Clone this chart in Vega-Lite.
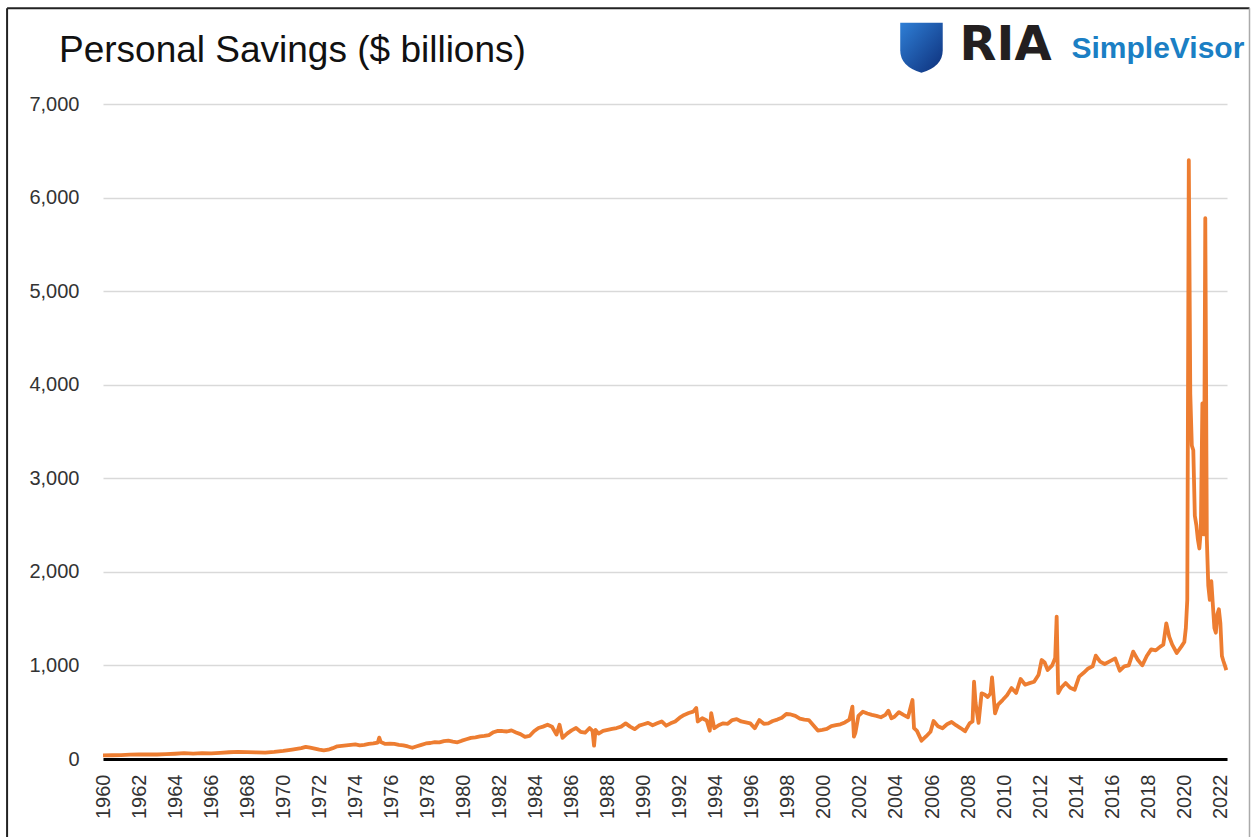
{
  "$schema": "https://vega.github.io/schema/vega-lite/v6.json",
  "autosize": {"type": "none"},
  "padding": {"left": 103, "top": 104, "right": 26, "bottom": 78},
  "width": 1124,
  "height": 655,
  "background": "white",
  "config": {
    "view": {"stroke": null},
    "font": "Liberation Sans"
  },
  "title": {
    "text": "Personal Savings ($ billions)",
    "anchor": "start",
    "frame": "group",
    "font": "Liberation Sans",
    "fontSize": 37,
    "fontWeight": "normal",
    "color": "#111111",
    "dx": -44,
    "offset": -63
  },
  "layer": [
    {
      "data": {
        "values": [
          {"date": "1960-01-01", "v": 38}, {"date": "1960-07-01", "v": 40}, {"date": "1961-01-01", "v": 42}, {"date": "1961-07-01", "v": 47},
          {"date": "1962-01-01", "v": 48}, {"date": "1962-07-01", "v": 50}, {"date": "1963-01-01", "v": 48}, {"date": "1963-07-01", "v": 52},
          {"date": "1964-01-01", "v": 56}, {"date": "1964-07-01", "v": 62}, {"date": "1965-01-01", "v": 58}, {"date": "1965-07-01", "v": 63},
          {"date": "1966-01-01", "v": 61}, {"date": "1966-07-01", "v": 66}, {"date": "1967-01-01", "v": 72}, {"date": "1967-07-01", "v": 76},
          {"date": "1968-01-01", "v": 73}, {"date": "1968-07-01", "v": 71}, {"date": "1969-01-01", "v": 69}, {"date": "1969-07-01", "v": 76},
          {"date": "1970-01-01", "v": 86}, {"date": "1970-07-01", "v": 101}, {"date": "1971-01-01", "v": 116}, {"date": "1971-04-01", "v": 130},
          {"date": "1971-07-01", "v": 121}, {"date": "1971-10-01", "v": 111}, {"date": "1972-01-01", "v": 100}, {"date": "1972-04-01", "v": 92},
          {"date": "1972-07-01", "v": 99}, {"date": "1972-10-01", "v": 116}, {"date": "1973-01-01", "v": 136}, {"date": "1973-04-01", "v": 141},
          {"date": "1973-07-01", "v": 146}, {"date": "1973-10-01", "v": 152}, {"date": "1974-01-01", "v": 156}, {"date": "1974-04-01", "v": 146},
          {"date": "1974-07-01", "v": 151}, {"date": "1974-10-01", "v": 161}, {"date": "1975-01-01", "v": 166}, {"date": "1975-04-01", "v": 176},
          {"date": "1975-05-01", "v": 228}, {"date": "1975-06-01", "v": 181}, {"date": "1975-09-01", "v": 161}, {"date": "1975-12-01", "v": 163},
          {"date": "1976-03-01", "v": 161}, {"date": "1976-06-01", "v": 151}, {"date": "1976-09-01", "v": 146}, {"date": "1976-12-01", "v": 134},
          {"date": "1977-03-01", "v": 120}, {"date": "1977-06-01", "v": 136}, {"date": "1977-09-01", "v": 151}, {"date": "1977-12-01", "v": 166},
          {"date": "1978-03-01", "v": 171}, {"date": "1978-06-01", "v": 181}, {"date": "1978-09-01", "v": 178}, {"date": "1978-12-01", "v": 191},
          {"date": "1979-03-01", "v": 196}, {"date": "1979-06-01", "v": 186}, {"date": "1979-09-01", "v": 178}, {"date": "1979-12-01", "v": 196},
          {"date": "1980-03-01", "v": 211}, {"date": "1980-06-01", "v": 226}, {"date": "1980-09-01", "v": 231}, {"date": "1980-12-01", "v": 241},
          {"date": "1981-03-01", "v": 246}, {"date": "1981-06-01", "v": 256}, {"date": "1981-09-01", "v": 286}, {"date": "1981-12-01", "v": 301},
          {"date": "1982-03-01", "v": 299}, {"date": "1982-06-01", "v": 294}, {"date": "1982-09-01", "v": 306}, {"date": "1982-12-01", "v": 284},
          {"date": "1983-03-01", "v": 266}, {"date": "1983-06-01", "v": 236}, {"date": "1983-09-01", "v": 246}, {"date": "1983-12-01", "v": 296},
          {"date": "1984-03-01", "v": 331}, {"date": "1984-06-01", "v": 346}, {"date": "1984-09-01", "v": 366}, {"date": "1984-12-01", "v": 344},
          {"date": "1985-03-01", "v": 261}, {"date": "1985-05-01", "v": 366}, {"date": "1985-07-01", "v": 226}, {"date": "1985-10-01", "v": 271},
          {"date": "1986-01-01", "v": 306}, {"date": "1986-04-01", "v": 331}, {"date": "1986-07-01", "v": 291}, {"date": "1986-10-01", "v": 281},
          {"date": "1987-01-01", "v": 331}, {"date": "1987-03-01", "v": 301}, {"date": "1987-04-01", "v": 142}, {"date": "1987-05-01", "v": 311},
          {"date": "1987-07-01", "v": 271}, {"date": "1987-10-01", "v": 301}, {"date": "1988-01-01", "v": 311}, {"date": "1988-04-01", "v": 321},
          {"date": "1988-07-01", "v": 331}, {"date": "1988-10-01", "v": 346}, {"date": "1989-01-01", "v": 381}, {"date": "1989-04-01", "v": 346},
          {"date": "1989-07-01", "v": 319}, {"date": "1989-10-01", "v": 356}, {"date": "1990-01-01", "v": 371}, {"date": "1990-04-01", "v": 386},
          {"date": "1990-07-01", "v": 361}, {"date": "1990-10-01", "v": 381}, {"date": "1991-01-01", "v": 401}, {"date": "1991-04-01", "v": 356},
          {"date": "1991-07-01", "v": 381}, {"date": "1991-10-01", "v": 401}, {"date": "1992-01-01", "v": 441}, {"date": "1992-04-01", "v": 471},
          {"date": "1992-07-01", "v": 491}, {"date": "1992-10-01", "v": 506}, {"date": "1992-12-01", "v": 545}, {"date": "1993-01-01", "v": 401},
          {"date": "1993-04-01", "v": 436}, {"date": "1993-07-01", "v": 411}, {"date": "1993-09-01", "v": 302}, {"date": "1993-10-01", "v": 490},
          {"date": "1993-12-01", "v": 329}, {"date": "1994-03-01", "v": 361}, {"date": "1994-06-01", "v": 381}, {"date": "1994-09-01", "v": 376},
          {"date": "1994-12-01", "v": 416}, {"date": "1995-03-01", "v": 426}, {"date": "1995-06-01", "v": 401}, {"date": "1995-09-01", "v": 391},
          {"date": "1995-12-01", "v": 381}, {"date": "1996-03-01", "v": 329}, {"date": "1996-06-01", "v": 416}, {"date": "1996-09-01", "v": 376},
          {"date": "1996-12-01", "v": 381}, {"date": "1997-03-01", "v": 406}, {"date": "1997-06-01", "v": 421}, {"date": "1997-09-01", "v": 441},
          {"date": "1997-12-01", "v": 481}, {"date": "1998-03-01", "v": 476}, {"date": "1998-06-01", "v": 461}, {"date": "1998-09-01", "v": 431},
          {"date": "1998-12-01", "v": 421}, {"date": "1999-03-01", "v": 416}, {"date": "1999-06-01", "v": 361}, {"date": "1999-09-01", "v": 304},
          {"date": "1999-12-01", "v": 311}, {"date": "2000-03-01", "v": 321}, {"date": "2000-06-01", "v": 351}, {"date": "2000-09-01", "v": 361},
          {"date": "2000-12-01", "v": 371}, {"date": "2001-03-01", "v": 391}, {"date": "2001-06-01", "v": 421}, {"date": "2001-08-01", "v": 560},
          {"date": "2001-09-01", "v": 240}, {"date": "2001-10-01", "v": 281}, {"date": "2001-12-01", "v": 461}, {"date": "2002-03-01", "v": 505},
          {"date": "2002-06-01", "v": 486}, {"date": "2002-09-01", "v": 471}, {"date": "2002-12-01", "v": 461}, {"date": "2003-03-01", "v": 446},
          {"date": "2003-06-01", "v": 471}, {"date": "2003-08-01", "v": 516}, {"date": "2003-10-01", "v": 435}, {"date": "2003-12-01", "v": 451},
          {"date": "2004-03-01", "v": 501}, {"date": "2004-06-01", "v": 471}, {"date": "2004-09-01", "v": 446}, {"date": "2004-12-01", "v": 630},
          {"date": "2005-01-01", "v": 330}, {"date": "2005-03-01", "v": 301}, {"date": "2005-06-01", "v": 196}, {"date": "2005-09-01", "v": 241},
          {"date": "2005-12-01", "v": 291}, {"date": "2006-02-01", "v": 406}, {"date": "2006-05-01", "v": 351}, {"date": "2006-08-01", "v": 329},
          {"date": "2006-11-01", "v": 371}, {"date": "2007-02-01", "v": 396}, {"date": "2007-05-01", "v": 361}, {"date": "2007-08-01", "v": 331},
          {"date": "2007-11-01", "v": 296}, {"date": "2008-02-01", "v": 381}, {"date": "2008-04-01", "v": 401}, {"date": "2008-05-01", "v": 826},
          {"date": "2008-06-01", "v": 600}, {"date": "2008-08-01", "v": 386}, {"date": "2008-10-01", "v": 702}, {"date": "2008-12-01", "v": 690},
          {"date": "2009-02-01", "v": 662}, {"date": "2009-04-01", "v": 702}, {"date": "2009-05-01", "v": 873}, {"date": "2009-07-01", "v": 488},
          {"date": "2009-09-01", "v": 581}, {"date": "2009-12-01", "v": 630}, {"date": "2010-03-01", "v": 681}, {"date": "2010-06-01", "v": 758},
          {"date": "2010-09-01", "v": 706}, {"date": "2010-12-01", "v": 855}, {"date": "2011-03-01", "v": 794}, {"date": "2011-06-01", "v": 811},
          {"date": "2011-09-01", "v": 826}, {"date": "2011-12-01", "v": 901}, {"date": "2012-02-01", "v": 1058}, {"date": "2012-04-01", "v": 1031},
          {"date": "2012-06-01", "v": 951}, {"date": "2012-09-01", "v": 1001}, {"date": "2012-11-01", "v": 1081}, {"date": "2012-12-01", "v": 1522},
          {"date": "2013-01-01", "v": 705}, {"date": "2013-03-01", "v": 761}, {"date": "2013-06-01", "v": 812}, {"date": "2013-09-01", "v": 761},
          {"date": "2013-12-01", "v": 741}, {"date": "2014-03-01", "v": 880}, {"date": "2014-06-01", "v": 921}, {"date": "2014-09-01", "v": 968},
          {"date": "2014-12-01", "v": 991}, {"date": "2015-02-01", "v": 1104}, {"date": "2015-05-01", "v": 1041}, {"date": "2015-08-01", "v": 1015},
          {"date": "2015-11-01", "v": 1041}, {"date": "2016-03-01", "v": 1075}, {"date": "2016-06-01", "v": 944}, {"date": "2016-09-01", "v": 991},
          {"date": "2016-12-01", "v": 1001}, {"date": "2017-03-01", "v": 1147}, {"date": "2017-06-01", "v": 1061}, {"date": "2017-09-01", "v": 1001},
          {"date": "2017-12-01", "v": 1101}, {"date": "2018-03-01", "v": 1172}, {"date": "2018-06-01", "v": 1161}, {"date": "2018-09-01", "v": 1201},
          {"date": "2018-11-01", "v": 1221}, {"date": "2019-01-01", "v": 1450}, {"date": "2019-03-01", "v": 1307}, {"date": "2019-05-01", "v": 1222},
          {"date": "2019-08-01", "v": 1133}, {"date": "2019-11-01", "v": 1201}, {"date": "2020-01-01", "v": 1251}, {"date": "2020-02-01", "v": 1400},
          {"date": "2020-03-01", "v": 1700}, {"date": "2020-04-01", "v": 6400}, {"date": "2020-05-01", "v": 3900}, {"date": "2020-06-01", "v": 3350},
          {"date": "2020-07-01", "v": 3300}, {"date": "2020-08-01", "v": 2600}, {"date": "2020-09-01", "v": 2500}, {"date": "2020-10-01", "v": 2350},
          {"date": "2020-11-01", "v": 2250}, {"date": "2020-12-01", "v": 2450}, {"date": "2021-01-01", "v": 3800}, {"date": "2021-02-01", "v": 2400},
          {"date": "2021-03-01", "v": 5780}, {"date": "2021-04-01", "v": 2350}, {"date": "2021-05-01", "v": 1850}, {"date": "2021-06-01", "v": 1700},
          {"date": "2021-07-01", "v": 1900}, {"date": "2021-08-01", "v": 1650}, {"date": "2021-09-01", "v": 1400}, {"date": "2021-10-01", "v": 1350},
          {"date": "2021-11-01", "v": 1550}, {"date": "2021-12-01", "v": 1600}, {"date": "2022-01-01", "v": 1450}, {"date": "2022-02-01", "v": 1100},
          {"date": "2022-03-01", "v": 1050}, {"date": "2022-04-01", "v": 1000}, {"date": "2022-05-01", "v": 950}
        ]
      },
      "mark": {"type": "line", "color": "#ed7d31", "strokeWidth": 3.8, "strokeJoin": "round", "clip": false},
      "encoding": {
        "x": {
          "field": "date",
          "type": "temporal",
          "scale": {"domain": [{"year": 1960, "month": 1, "date": 1}, {"year": 2022, "month": 5, "date": 15}]},
          "axis": {
            "title": null,
            "format": "%Y",
            "tickCount": {"interval": "year", "step": 2},
            "labelAngle": -90,
            "labelFontSize": 20,
            "labelFont": "Liberation Sans",
            "labelColor": "#333333",
            "labelPadding": 15,
            "labelFlush": false,
            "labelOverlap": false,
            "labelBound": false,
            "ticks": false,
            "grid": false,
            "domainColor": "#000000",
            "domainWidth": 3
          }
        },
        "y": {
          "field": "v",
          "type": "quantitative",
          "scale": {"domain": [0, 7000], "nice": false},
          "axis": {
            "title": null,
            "values": [0, 1000, 2000, 3000, 4000, 5000, 6000, 7000],
            "format": ",.0f",
            "labelFontSize": 20,
            "labelFont": "Liberation Sans",
            "labelColor": "#333333",
            "labelPadding": 24,
            "ticks": false,
            "domain": false,
            "gridColor": "#d9d9d9",
            "gridWidth": 1.3
          }
        }
      }
    },
    {
      "data": {"values": [{"label": "shield"}]},
      "mark": {
        "type": "point",
        "shape": "M-0.85,-1 L0.85,-1 L0.85,0.1 Q0.85,0.75 0,1 Q-0.85,0.75 -0.85,0.1 Z",
        "size": 2500,
        "filled": true,
        "opacity": 1,
        "color": {
          "gradient": "linear", "x1": 0, "y1": 0, "x2": 1, "y2": 1,
          "stops": [{"offset": 0, "color": "#2f7fd6"}, {"offset": 1, "color": "#0d2f7a"}]
        },
        "clip": false
      },
      "encoding": {
        "x": {"datum": {"year": 2005, "month": 6, "date": 1}, "type": "temporal"},
        "y": {"datum": 7600, "type": "quantitative"}
      }
    },
    {
      "data": {"values": [{"label": "RIA"}]},
      "mark": {"type": "text", "align": "left", "baseline": "alphabetic", "font": "DejaVu Sans", "fontWeight": "bold", "fontSize": 48, "color": "#231f20", "clip": false},
      "encoding": {
        "x": {"datum": {"year": 2007, "month": 7, "date": 14}, "type": "temporal"},
        "y": {"datum": 7468, "type": "quantitative"},
        "text": {"field": "label", "type": "nominal"}
      }
    },
    {
      "data": {"values": [{"label": "SimpleVisor"}]},
      "mark": {"type": "text", "align": "left", "baseline": "alphabetic", "font": "Liberation Sans", "fontWeight": "bold", "fontSize": 30, "color": "#1b7fc4", "clip": false},
      "encoding": {
        "x": {"datum": {"year": 2013, "month": 9, "date": 27}, "type": "temporal"},
        "y": {"datum": 7489, "type": "quantitative"},
        "text": {"field": "label", "type": "nominal"}
      }
    },
    {
      "data": {"values": [{"label": "frame-left"}]},
      "mark": {"type": "rule", "color": "#222222", "strokeWidth": 2, "clip": false},
      "encoding": {
        "x": {"datum": {"year": 1954, "month": 9, "date": 5}, "type": "temporal"},
        "y": {"datum": 8023, "type": "quantitative"},
        "y2": {"datum": -900}
      }
    },
    {
      "data": {"values": [{"label": "frame-top"}]},
      "mark": {"type": "rule", "color": "#222222", "strokeWidth": 2, "clip": false},
      "encoding": {
        "x": {"datum": {"year": 1954, "month": 9, "date": 5}, "type": "temporal"},
        "x2": {"datum": {"year": 2023, "month": 8, "date": 14}},
        "y": {"datum": 8023, "type": "quantitative"}
      }
    },
    {
      "data": {"values": [{"label": "frame-right"}]},
      "mark": {"type": "rule", "color": "#aaaaaa", "strokeWidth": 1.5, "clip": false},
      "encoding": {
        "x": {"datum": {"year": 2023, "month": 8, "date": 14}, "type": "temporal"},
        "y": {"datum": 8023, "type": "quantitative"},
        "y2": {"datum": -900}
      }
    }
  ]
}
